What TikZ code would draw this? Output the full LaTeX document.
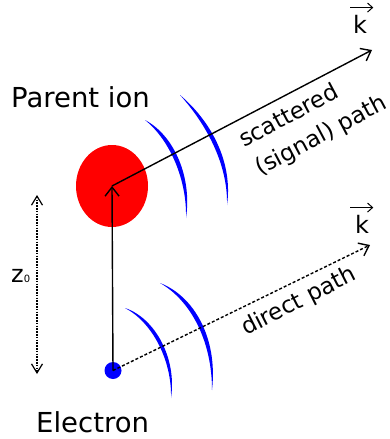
\documentclass[tikz,border=0pt]{standalone}
\usepackage{fontspec}
\setmainfont{DejaVu Sans}
\usetikzlibrary{arrows.meta,shapes.geometric}
\begin{document}
\begin{tikzpicture}[x=1pt,y=-1pt,
  bigtxt/.style={inner sep=0pt,font=\fontsize{27.5}{33}\selectfont},
  midtxt/.style={inner sep=0pt,font=\fontsize{23}{28}\selectfont},
  ktxt/.style={inner sep=0pt,font=\fontsize{24}{28}\selectfont},
  wave/.style={fill=blue},
  mainline/.style={line width=1.4pt,-{Straight Barb[length=9pt,width=14pt,line width=1.4pt]}},
  kvec/.style={line width=1pt,-{Straight Barb[length=5pt,width=9pt,line width=1pt]}}]
\useasboundingbox (0,0) rectangle (390,439);
% ion and electron
\node[ellipse,fill=red,minimum width=72pt,minimum height=82pt,inner sep=0pt] (ion) at (112,186) {};
\node[circle,fill=blue,minimum size=17pt,inner sep=0pt] (el) at (113,370.5) {};
% waves
\fill[wave] (145,120) .. controls (170,140) and (187,180) .. (186,218)
  .. controls (192,178) and (175,136) .. (145,120) -- cycle;
\fill[wave] (180,95) .. controls (207,125) and (228,165) .. (227,205)
  .. controls (233,163) and (212,122) .. (180,95) -- cycle;
\fill[wave] (125,308) .. controls (152,322) and (172,360) .. (171,398)
  .. controls (177,358) and (155,318) .. (125,308) -- cycle;
\fill[wave] (160,283) .. controls (190,300) and (212,340) .. (212,390)
  .. controls (218,338) and (194,296) .. (160,283) -- cycle;
% paths
\coordinate (k1tip) at (372,50);
\coordinate (k2tip) at (370,245);
\draw[mainline] (el.center) -- (ion.center);
\draw[mainline] (ion.center) -- (k1tip);
\draw[mainline,dash pattern=on 3pt off 2pt] (el.center) -- (k2tip);
% z0
\coordinate (ztop) at (37,195);
\coordinate (zbot) at (37,374);
\draw[line width=1.3pt,dash pattern=on 1.6pt off 1.2pt,{Straight Barb[length=9pt,width=11pt,line width=1.2pt]}-{Straight Barb[length=9pt,width=11pt,line width=1.2pt]}] (ztop) -- (zbot);
\node[anchor=base west,ktxt] (z0) at (11,282) {z\fontsize{10}{10}\selectfont 0};
% labels
\node[anchor=base west,bigtxt] (pion) at (11,107) {Parent ion};
\node[anchor=base west,bigtxt] (elec) at (36,432) {Electron};
\node[anchor=base west,ktxt] (k1) at (353,33) {k};
\node[anchor=base west,ktxt] (k2) at (355,233) {k};
\draw[kvec] ([xshift=-3pt,yshift=7pt]k1.north west) -- ([xshift=6pt,yshift=7pt]k1.north east);
\draw[kvec] ([xshift=-5pt,yshift=7pt]k2.north west) -- ([xshift=4pt,yshift=7pt]k2.north east);
\node[anchor=base west,midtxt,rotate=28] (scat1) at (244,148) {scattered};
\node[anchor=base west,midtxt,rotate=28] (scat2) at (260,176) {(signal) path};
\node[anchor=base west,midtxt,rotate=27] (dir) at (246,336) {direct path};
\end{tikzpicture}
\end{document}
